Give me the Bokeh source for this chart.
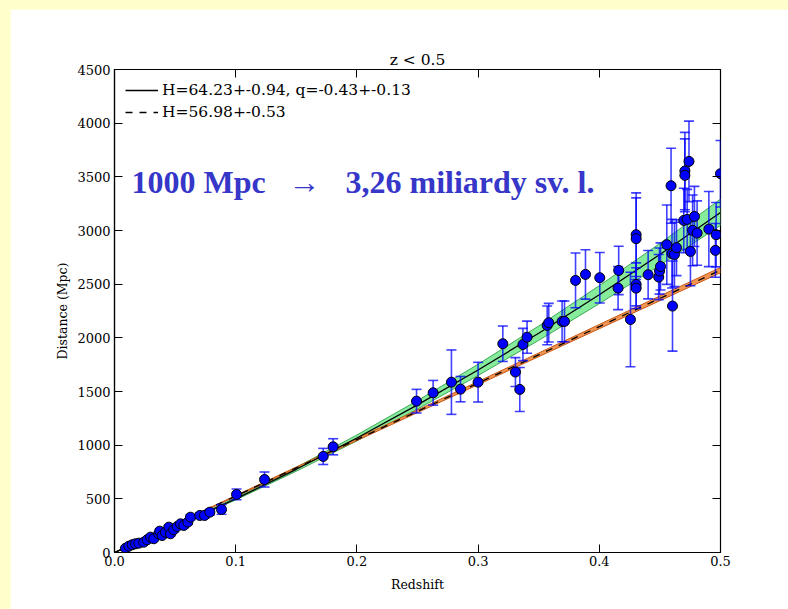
from bokeh.plotting import figure
from bokeh.models import (Range1d, LinearAxis, FixedTicker, Legend, LegendItem, Label,
                          CustomJSTickFormatter)
from bokeh.layouts import column
from bokeh.embed import file_html
from bokeh.resources import INLINE

# ---- data ----
redshift = [0.0091, 0.0118, 0.0146, 0.0173, 0.0201, 0.0241, 0.0269, 0.0297, 0.0324, 0.0365,
            0.0373, 0.0393, 0.0420, 0.0448, 0.0462, 0.0489, 0.0517, 0.0545, 0.0572, 0.0605,
            0.0627, 0.0704, 0.0743, 0.0787, 0.0883, 0.1007, 0.1238, 0.1722, 0.1804, 0.2492,
            0.2629, 0.2780, 0.2855, 0.3000, 0.3204, 0.3308, 0.3344, 0.3370, 0.3404, 0.3570,
            0.3583, 0.3693, 0.3713, 0.3804, 0.3886, 0.4004, 0.4155, 0.4160, 0.4257, 0.4304,
            0.4304, 0.4304, 0.4304, 0.4403, 0.4490, 0.4497, 0.4505, 0.4557, 0.4592, 0.4604,
            0.4600, 0.4620, 0.4637, 0.4697, 0.4706, 0.4706, 0.4725, 0.4740, 0.4752, 0.4770,
            0.4785, 0.4807, 0.4904, 0.4958, 0.4964, 0.5000]
distance = [40, 59, 72, 81, 87, 96, 118, 143, 128, 174,
            199, 158, 189, 236, 174, 212, 242, 267, 252, 283,
            329, 345, 345, 376, 401, 541, 680, 895, 985, 1410,
            1488, 1587, 1522, 1587, 1945, 1681, 1519, 1938, 2006, 2116,
            2141, 2153, 2153, 2535, 2591, 2560, 2463, 2628, 2171, 2961,
            2924, 2498, 2463, 2588, 2566, 2622, 2665, 2868, 3417, 2296,
            2784, 2777, 2840, 3094, 3554, 3514, 3103, 3644, 2805, 3001,
            3131, 2976, 3013, 2815, 2961, 3529]
dist_err = [10, 10, 12, 12, 12, 14, 14, 15, 15, 16,
            16, 16, 18, 18, 18, 20, 20, 20, 22, 22,
            24, 25, 25, 26, 45, 50, 70, 75, 75, 110,
            115, 300, 118, 185, 165, 135, 205, 150, 150, 180,
            180, 190, 190, 255, 230, 235, 200, 225, 440, 390,
            380, 200, 190, 225, 210, 215, 220, 370, 350, 420,
            320, 300, 260, 300, 360, 340, 280, 375, 320, 330,
            280, 300, 350, 250, 300, 310]

# fit curves (H=64.23+-0.94, q=-0.43+-0.13) and (H=56.98+-0.53)
curve_z = [0.0, 0.05, 0.1, 0.15, 0.2, 0.25, 0.3, 0.35, 0.4, 0.45, 0.5]
fit_q = [0, 241.7, 500.1, 775.2, 1067.0, 1375.5, 1700.6, 2042.5, 2401.0, 2776.2, 3168.1]
fit_q_hi = [0, 246.1, 510.6, 793.6, 1095.2, 1415.1, 1753.6, 2110.5, 2485.9, 2879.7, 3292.1]
fit_q_lo = [0, 237.5, 489.9, 757.3, 1039.6, 1337.0, 1649.2, 1976.4, 2318.5, 2675.6, 3047.6]
fit_lin = [0, 263.1, 526.1, 789.2, 1052.3, 1315.3, 1578.4, 1841.5, 2104.5, 2367.6, 2630.7]
fit_lin_hi = [0, 265.5, 531.1, 796.6, 1062.2, 1327.7, 1593.2, 1858.8, 2124.3, 2389.9, 2655.4]
fit_lin_lo = [0, 260.6, 521.3, 781.9, 1042.6, 1303.2, 1563.9, 1824.5, 2085.2, 2345.8, 2606.4]

x_ticks = [0.0, 0.1, 0.2, 0.3, 0.4, 0.5]
y_ticks = [0, 500, 1000, 1500, 2000, 2500, 3000, 3500, 4000, 4500]

legend_labels = ["H=64.23+-0.94, q=-0.43+-0.13", "H=56.98+-0.53"]
title_text = "z < 0.5"
x_label = "Redshift"
y_label = "Distance (Mpc)"
note_parts = ["1000 Mpc", "\u2192", "3,26 miliardy sv. l."]

SERIF = "DejaVu Serif"

p = figure(width=778, height=600, output_backend="svg", toolbar_location=None,
           x_range=Range1d(0, 0.5), y_range=Range1d(0, 4500),
           min_border_left=104, min_border_right=68, min_border_top=60, min_border_bottom=57,
           background_fill_color="white", border_fill_color="white",
           outline_line_color="black", outline_line_width=1.2)
p.margin = (9, 0, 0, 10)
p.grid.visible = False

p.title.text = title_text
p.title.align = "center"
p.title.text_font = SERIF
p.title.text_font_style = "normal"
p.title.text_font_size = "15.5px"
p.title.text_color = "black"
p.title.standoff = 2

for ax in (p.xaxis[0], p.yaxis[0]):
    ax.major_label_text_font = SERIF
    ax.major_label_text_font_size = "13px"
    ax.major_label_text_color = "black"
    ax.axis_label_text_font = SERIF
    ax.axis_label_text_font_size = "12.5px"
    ax.axis_label_text_font_style = "normal"
    ax.axis_label_text_color = "black"
    ax.major_tick_in = 8
    ax.major_tick_out = 0
    ax.minor_tick_line_color = None
    ax.axis_line_color = "black"
    ax.axis_line_width = 1.2
    ax.major_tick_line_width = 1
    ax.major_tick_line_color = "black"

p.xaxis[0].ticker = FixedTicker(ticks=x_ticks)
p.xaxis[0].formatter = CustomJSTickFormatter(code="return tick.toFixed(1);")
p.yaxis[0].ticker = FixedTicker(ticks=y_ticks)
p.xaxis[0].axis_label = x_label
p.yaxis[0].axis_label = y_label
p.xaxis[0].major_label_standoff = 3
p.yaxis[0].major_label_standoff = 4
p.xaxis[0].axis_label_standoff = 8
p.yaxis[0].axis_label_standoff = 4

top = LinearAxis(ticker=FixedTicker(ticks=x_ticks), major_tick_in=8, major_tick_out=0,
                 minor_tick_line_color=None, axis_line_color=None,
                 major_tick_line_color="black",
                 major_label_text_color=None, major_label_standoff=0)
right = LinearAxis(ticker=FixedTicker(ticks=y_ticks), major_tick_in=8, major_tick_out=0,
                   minor_tick_line_color=None, axis_line_color=None,
                   major_tick_line_color="black",
                   major_label_text_color=None, major_label_standoff=0)
p.add_layout(top, "above")
p.add_layout(right, "right")

# bands
p.varea(x=curve_z, y1=fit_q_lo, y2=fit_q_hi, fill_color="#86EC9C", fill_alpha=1.0)
p.line(curve_z, fit_q_hi, line_color="#3FA95A", line_width=1)
p.line(curve_z, fit_q_lo, line_color="#3FA95A", line_width=1)
p.varea(x=curve_z, y1=fit_lin_lo, y2=fit_lin_hi, fill_color="#F08A40", fill_alpha=0.9)
p.line(curve_z, fit_lin_hi, line_color="#C85A18", line_width=1)
p.line(curve_z, fit_lin_lo, line_color="#C85A18", line_width=1)

r_solid = p.line(curve_z, fit_q, line_color="black", line_width=1.3)
r_dash = p.line(curve_z, fit_lin, line_color="black", line_width=1.3, line_dash="7 7")

# error bars
upper = [d + e for d, e in zip(distance, dist_err)]
lower = [d - e for d, e in zip(distance, dist_err)]
p.segment(x0=redshift, y0=lower, x1=redshift, y1=upper, line_color="#0000FF",
          line_width=1.6, line_alpha=0.75)
p.scatter(x=redshift, y=upper, marker="dash", size=10, line_color="#0000FF",
          line_width=1.6, line_alpha=0.75)
p.scatter(x=redshift, y=lower, marker="dash", size=10, line_color="#0000FF",
          line_width=1.6, line_alpha=0.75)

# points
p.scatter(x=redshift, y=distance, marker="circle", size=10, fill_color="#0000FF",
          line_color="black", line_width=1)

legend = Legend(items=[LegendItem(label=legend_labels[0], renderers=[r_solid]),
                       LegendItem(label=legend_labels[1], renderers=[r_dash])],
                location="top_left", margin=0, padding=11, spacing=2,
                glyph_width=33, glyph_height=20, label_height=20, label_standoff=4,
                label_text_font=SERIF, label_text_font_size="15.5px",
                label_text_color="black",
                border_line_alpha=0, background_fill_alpha=0)
p.add_layout(legend)

note_x = [0.014, 0.1433, 0.1906]
for txt, xx in zip(note_parts, note_x):
    p.add_layout(Label(x=xx, y=3450, text=txt, text_font="Liberation Serif",
                       text_font_style="bold", text_font_size="32px",
                       text_color="#3636C8", text_baseline="alphabetic"))

lay = column(p, styles={"background-color": "#FFFFCC"})
open("out.html", "w").write(file_html(lay, INLINE))
